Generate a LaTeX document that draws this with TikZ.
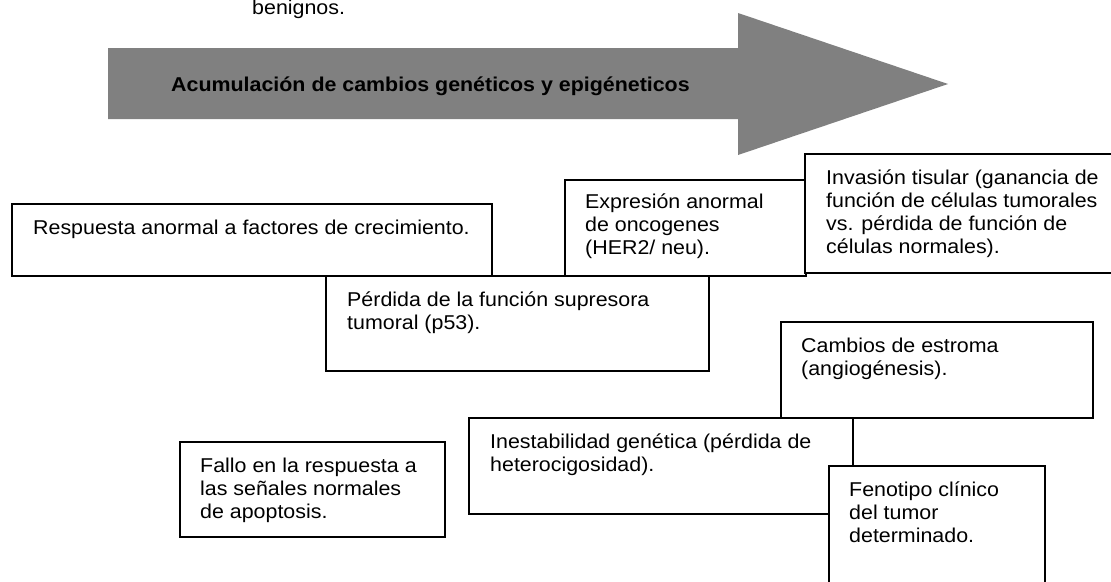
\documentclass[tikz,border=0pt]{standalone}
\usepackage{fontspec}
\setmainfont{Liberation Sans}[FakeStretch=1.07]
\usetikzlibrary{calc}
\definecolor{arrowgray}{RGB}{128,128,128}
\newcommand\mybt[1]{\parbox[t]{600pt}{\raggedright #1}}
\tikzset{
  boxnode/.style={draw=black, line width=1.6pt, fill=white, rectangle, inner sep=0pt, outer sep=0pt, anchor=north west},
  txtnode/.style={inner sep=0pt, anchor=base west, font=\fontsize{20}{23.2}\selectfont},
  boldtxt/.style={txtnode, font=\fontsize{20}{23.2}\selectfont\bfseries},
}
\begin{document}
\begin{tikzpicture}[x=1pt,y=-1pt]
\useasboundingbox (0,0) rectangle (1111,581);
\clip (0,0) rectangle (1111,581);
\fill[white] (0,0) rectangle (1111,581);

% top text (cut off)
\node[txtnode] (benig) at (252,14) {benignos.};

% big arrow
\fill[arrowgray] (108,48) -- (738,48) -- (738,13) -- (948,84) -- (738,155) -- (738,119) -- (108,119) -- cycle;
\node[boldtxt] (arrowtxt) at (171,91) {Acumulación de cambios genéticos y epigéneticos};

% boxes
\node[boxnode, minimum width=480pt, minimum height=72pt] (b1) at (12,204) {};
\node[txtnode] (t1) at ($(b1.north west)+(21,30)$) {\mybt{Respuesta anormal a factores de crecimiento.}};

\node[boxnode, minimum width=241pt, minimum height=96pt] (b3) at (565,180) {};
\node[txtnode] (t3) at ($(b3.north west)+(20,28)$) {\mybt{Expresión anormal\\de oncogenes\\(HER2/ neu).}};

\node[boxnode, minimum width=310pt, minimum height=119pt] (b4) at (805,154) {};
\node[txtnode] (t4) at ($(b4.north west)+(21,30)$) {\mybt{Invasión tisular (ganancia de\\función de células tumorales\\vs. pérdida de función de\\células normales).}};

\node[boxnode, minimum width=383pt, minimum height=95pt] (b2) at (326,276) {};
\node[txtnode] (t2) at ($(b2.north west)+(21,30)$) {\mybt{Pérdida de la función supresora\\tumoral (p53).}};

\node[boxnode, minimum width=312pt, minimum height=96pt] (b5) at (781,322) {};
\node[txtnode] (t5) at ($(b5.north west)+(20,30)$) {\mybt{Cambios de estroma\\(angiogénesis).}};

\node[boxnode, minimum width=384pt, minimum height=96pt] (b6) at (469,418) {};
\node[txtnode] (t6) at ($(b6.north west)+(21,30)$) {\mybt{Inestabilidad genética (pérdida de\\heterocigosidad).}};

\node[boxnode, minimum width=265pt, minimum height=95pt] (b7) at (180,442) {};
\node[txtnode] (t7) at ($(b7.north west)+(20,30)$) {\mybt{Fallo en la respuesta a\\las señales normales\\de apoptosis.}};

\node[boxnode, minimum width=216pt, minimum height=130pt] (b8) at (829,466) {};
\node[txtnode] (t8) at ($(b8.north west)+(20,30)$) {\mybt{Fenotipo clínico\\del tumor\\determinado.}};
\end{tikzpicture}
\end{document}
